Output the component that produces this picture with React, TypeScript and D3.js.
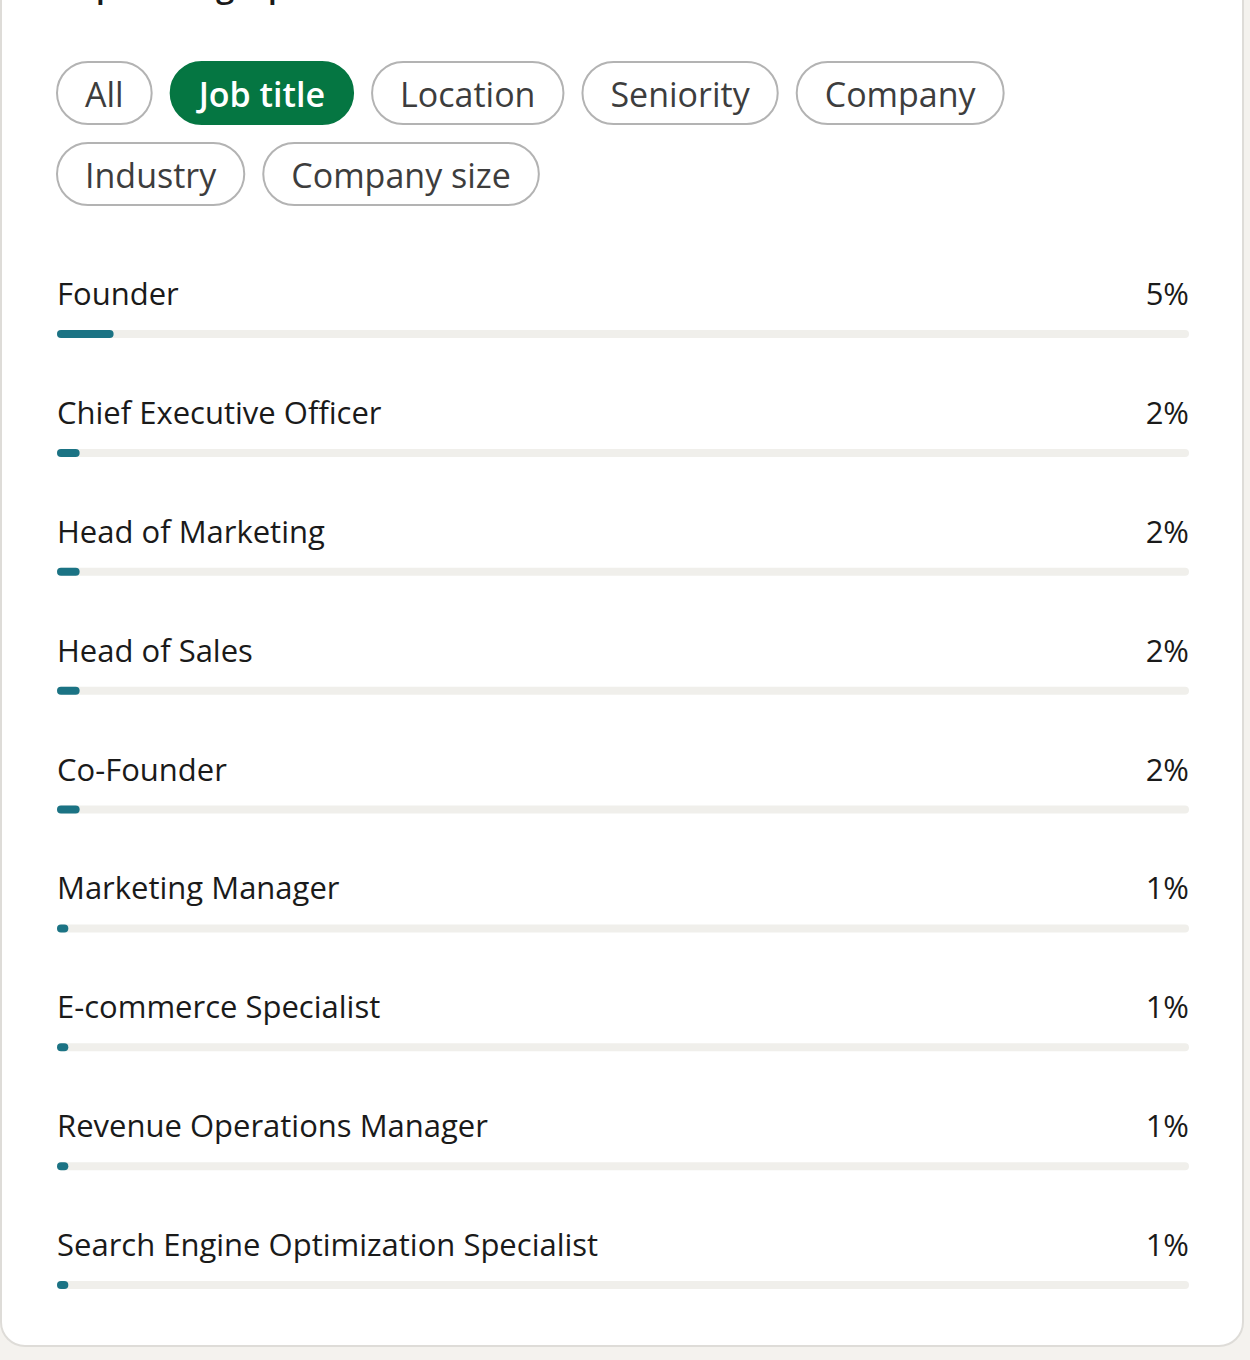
import React, { useEffect, useRef } from "react";
import * as d3 from "d3";

const title = "Top demographics";
const filters = ["All", "Job title", "Location", "Seniority", "Company", "Industry", "Company size"];
const activeFilter = "Job title";
const jobTitles = [
  "Founder",
  "Chief Executive Officer",
  "Head of Marketing",
  "Head of Sales",
  "Co-Founder",
  "Marketing Manager",
  "E-commerce Specialist",
  "Revenue Operations Manager",
  "Search Engine Optimization Specialist",
];
const shares = [5, 2, 2, 2, 2, 1, 1, 1, 1];

const W = 1250;
const H = 1360;
const FONT = "'Open Sans', 'Noto Sans', sans-serif";

export default function App() {
  const ref = useRef<SVGSVGElement | null>(null);

  useEffect(() => {
    const svg = d3.select(ref.current);
    svg.selectAll("*").remove();

    svg.append("rect").attr("width", W).attr("height", H).attr("fill", "#f4f2ee");
    svg
      .append("rect")
      .attr("x", 1)
      .attr("y", -40)
      .attr("width", 1242)
      .attr("height", 1386)
      .attr("rx", 24)
      .attr("fill", "#ffffff")
      .attr("stroke", "#dedcd8")
      .attr("stroke-width", 2);

    svg
      .append("text")
      .attr("x", 57)
      .attr("y", -3)
      .attr("font-family", FONT)
      .attr("font-size", 33)
      .attr("font-weight", 600)
      .attr("fill", "#1a1a1a")
      .text(title);

    // filter pills
    const left = 57;
    const right = 1190;
    const pillH = 62;
    const gap = 19;
    const pad = 28;
    let x = left;
    let y = 62;
    const pillG = svg.append("g");
    filters.forEach((f) => {
      const g = pillG.append("g");
      const t = g
        .append("text")
        .attr("font-family", FONT)
        .attr("font-size", 34)
        .attr("font-weight", f === activeFilter ? 600 : 400)
        .attr("text-anchor", "middle")
        .attr("dominant-baseline", "central")
        .attr("fill", f === activeFilter ? "#ffffff" : "#3d3d3d")
        .text(f);
      const tw = (t.node() as SVGTextElement).getComputedTextLength();
      const w = tw + pad * 2;
      if (x + w > right) {
        x = left;
        y += pillH + 19;
      }
      g.insert("rect", "text")
        .attr("x", x)
        .attr("y", y)
        .attr("width", w)
        .attr("height", pillH)
        .attr("rx", pillH / 2)
        .attr("fill", f === activeFilter ? "#057642" : "#ffffff")
        .attr("stroke", f === activeFilter ? "#057642" : "#b3b3b3")
        .attr("stroke-width", 2);
      t.attr("x", x + w / 2).attr("y", y + pillH / 2 + 1);
      x += w + gap;
    });

    // rows
    const barScale = d3.scaleLinear().domain([0, 100]).range([0, 1132]);
    const yScale = d3.scalePoint<string>().domain(jobTitles).range([293, 1244]);

    const rows = svg
      .append("g")
      .selectAll("g")
      .data(jobTitles.map((t, i) => ({ t, v: shares[i] })))
      .join("g")
      .attr("transform", (d) => `translate(0,${yScale(d.t)})`);

    rows
      .append("text")
      .attr("x", 57)
      .attr("y", 0)
      .attr("dominant-baseline", "central")
      .attr("font-family", FONT)
      .attr("font-size", 31)
      .attr("font-weight", 500)
      .attr("fill", "#1a1a1a")
      .text((d) => d.t);

    rows
      .append("text")
      .attr("x", 1189)
      .attr("y", 0)
      .attr("text-anchor", "end")
      .attr("dominant-baseline", "central")
      .attr("font-family", FONT)
      .attr("font-size", 31)
      .attr("font-weight", 500)
      .attr("fill", "#1a1a1a")
      .text((d) => `${d.v}%`);

    rows
      .append("rect")
      .attr("x", 57)
      .attr("y", 37)
      .attr("width", 1132)
      .attr("height", 8)
      .attr("rx", 4)
      .attr("fill", "#f0efeb");

    rows
      .append("rect")
      .attr("x", 57)
      .attr("y", 37)
      .attr("width", (d) => Math.max(10, barScale(d.v)))
      .attr("height", 8)
      .attr("rx", 4)
      .attr("fill", "#1b7384");
  }, []);

  return (
    <svg
      ref={ref}
      width={W}
      height={H}
      style={{ position: "absolute", left: 0, top: 0, display: "block" }}
    />
  );
}
